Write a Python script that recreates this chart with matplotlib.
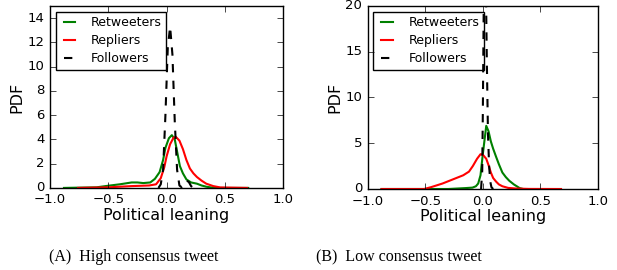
import matplotlib
matplotlib.use("Agg")
import matplotlib.pyplot as plt

# =======================================
#   DATOS
# =======================================

# (A) High consensus tweet
a_ret_x = [-0.88, -0.6, -0.5, -0.4, -0.3, -0.25, -0.2, -0.14, -0.1, -0.06, -0.03, -0.01, 0.02, 0.045,
           0.07, 0.09, 0.114, 0.14, 0.17, 0.21, 0.26, 0.3, 0.34, 0.38, 0.43, 0.7]
a_ret_y = [0.0, 0.05, 0.18, 0.3, 0.45, 0.45, 0.4, 0.45, 0.75, 1.3, 2.3, 3.3, 4.1, 4.35,
           4.0, 3.0, 1.8, 1.2, 0.7, 0.45, 0.35, 0.2, 0.1, 0.04, 0.0, 0.0]

a_rep_x = [-0.76, -0.5, -0.3, -0.15, -0.09, -0.05, -0.02, 0.0, 0.03, 0.06, 0.08, 0.11,
           0.14, 0.17, 0.2, 0.23, 0.26, 0.3, 0.34, 0.4, 0.46, 0.69]
a_rep_y = [0.0, 0.05, 0.15, 0.2, 0.3, 0.8, 1.7, 2.6, 3.6, 4.15, 4.2, 3.9,
           3.2, 2.3, 1.6, 1.2, 0.9, 0.6, 0.35, 0.15, 0.04, 0.0]

a_fol_x = [-0.07, -0.05, -0.03, -0.01, 0.01, 0.03, 0.05, 0.07, 0.09, 0.11, 0.13, 0.15,
           0.17, 0.19, 0.21, 0.23]
a_fol_y = [0.0, 0.3, 1.5, 6.0, 11.5, 13.3, 11.0, 5.5, 1.5, 0.2, 0.05, 0.3,
           0.6, 0.5, 0.15, 0.0]

# (B) Low consensus tweet
b_ret_x = [-0.88, -0.3, -0.15, -0.09, -0.06, -0.04, -0.02, 0.0, 0.03, 0.05, 0.07, 0.09,
           0.116, 0.14, 0.17, 0.2, 0.23, 0.27, 0.32, 0.35]
b_ret_y = [0.0, 0.0, 0.1, 0.15, 0.3, 0.6, 1.5, 3.8, 6.9, 6.3, 5.2, 4.4,
           3.5, 2.7, 1.8, 1.3, 0.9, 0.5, 0.1, 0.0]

b_rep_x = [-0.88, -0.51, -0.45, -0.35, -0.25, -0.17, -0.12, -0.087, -0.05, -0.02, 0.0,
           0.03, 0.05, 0.07, 0.09, 0.116, 0.14, 0.17, 0.22, 0.29, 0.4, 0.68]
b_rep_y = [0.0, 0.0, 0.2, 0.6, 1.1, 1.5, 1.9, 2.5, 3.3, 3.8, 3.75,
           3.3, 2.6, 1.8, 1.2, 0.8, 0.5, 0.3, 0.12, 0.05, 0.01, 0.0]

b_fol_x = [-0.015, -0.005, 0.0, 0.008, 0.02, 0.028, 0.035, 0.045, 0.055, 0.065, 0.075, 0.09]
b_fol_y = [0.0, 2.0, 8.0, 20.0, 23.0, 21.0, 14.0, 6.0, 2.5, 0.8, 0.2, 0.0]

paneles = [
    ("(A)  High consensus tweet", 15, range(0, 15, 2),
     (a_ret_x, a_ret_y), (a_rep_x, a_rep_y), (a_fol_x, a_fol_y)),
    ("(B)  Low consensus tweet", 20, range(0, 21, 5),
     (b_ret_x, b_ret_y), (b_rep_x, b_rep_y), (b_fol_x, b_fol_y)),
]

# =======================================
#   GRAFICA
# =======================================

plt.style.use("classic")
plt.rcParams["font.family"] = "DejaVu Sans"

fig = plt.figure(figsize=(6.17, 2.70), dpi=100, facecolor="white")
posiciones = [[0.081, 0.304, 0.378, 0.674], [0.596, 0.300, 0.373, 0.678]]
centros_caption = [0.216, 0.647]

for (titulo, ymax, yticks, ret, rep, fol), pos, cx in zip(paneles, posiciones, centros_caption):
    ax = fig.add_axes(pos)
    ax.plot(ret[0], ret[1], color="green", lw=1.5, label="Retweeters")
    ax.plot(rep[0], rep[1], color="red", lw=1.5, label="Repliers")
    ax.plot(fol[0], fol[1], "k--", lw=1.5, label="Followers")
    ax.set_xlim(-1.0, 1.0)
    ax.set_ylim(0, ymax)
    ax.set_xticks([-1.0, -0.5, 0.0, 0.5, 1.0])
    ax.set_yticks(list(yticks))
    ax.tick_params(labelsize=9.5)
    ax.set_xlabel("Political leaning", fontsize=11.5, labelpad=1)
    ax.set_ylabel("PDF", fontsize=11.5, labelpad=2)
    leg = ax.legend(loc="upper left", fontsize=9, frameon=True, borderaxespad=0.45,
                    handlelength=1.5, handletextpad=1.0, labelspacing=0.42, borderpad=0.35)
    leg.set_zorder(1)
    fig.text(cx, 0.048, titulo, ha="center", va="center",
             fontsize=11.5, family="Liberation Serif")

fig.savefig("out.png", dpi=100, facecolor="white")
